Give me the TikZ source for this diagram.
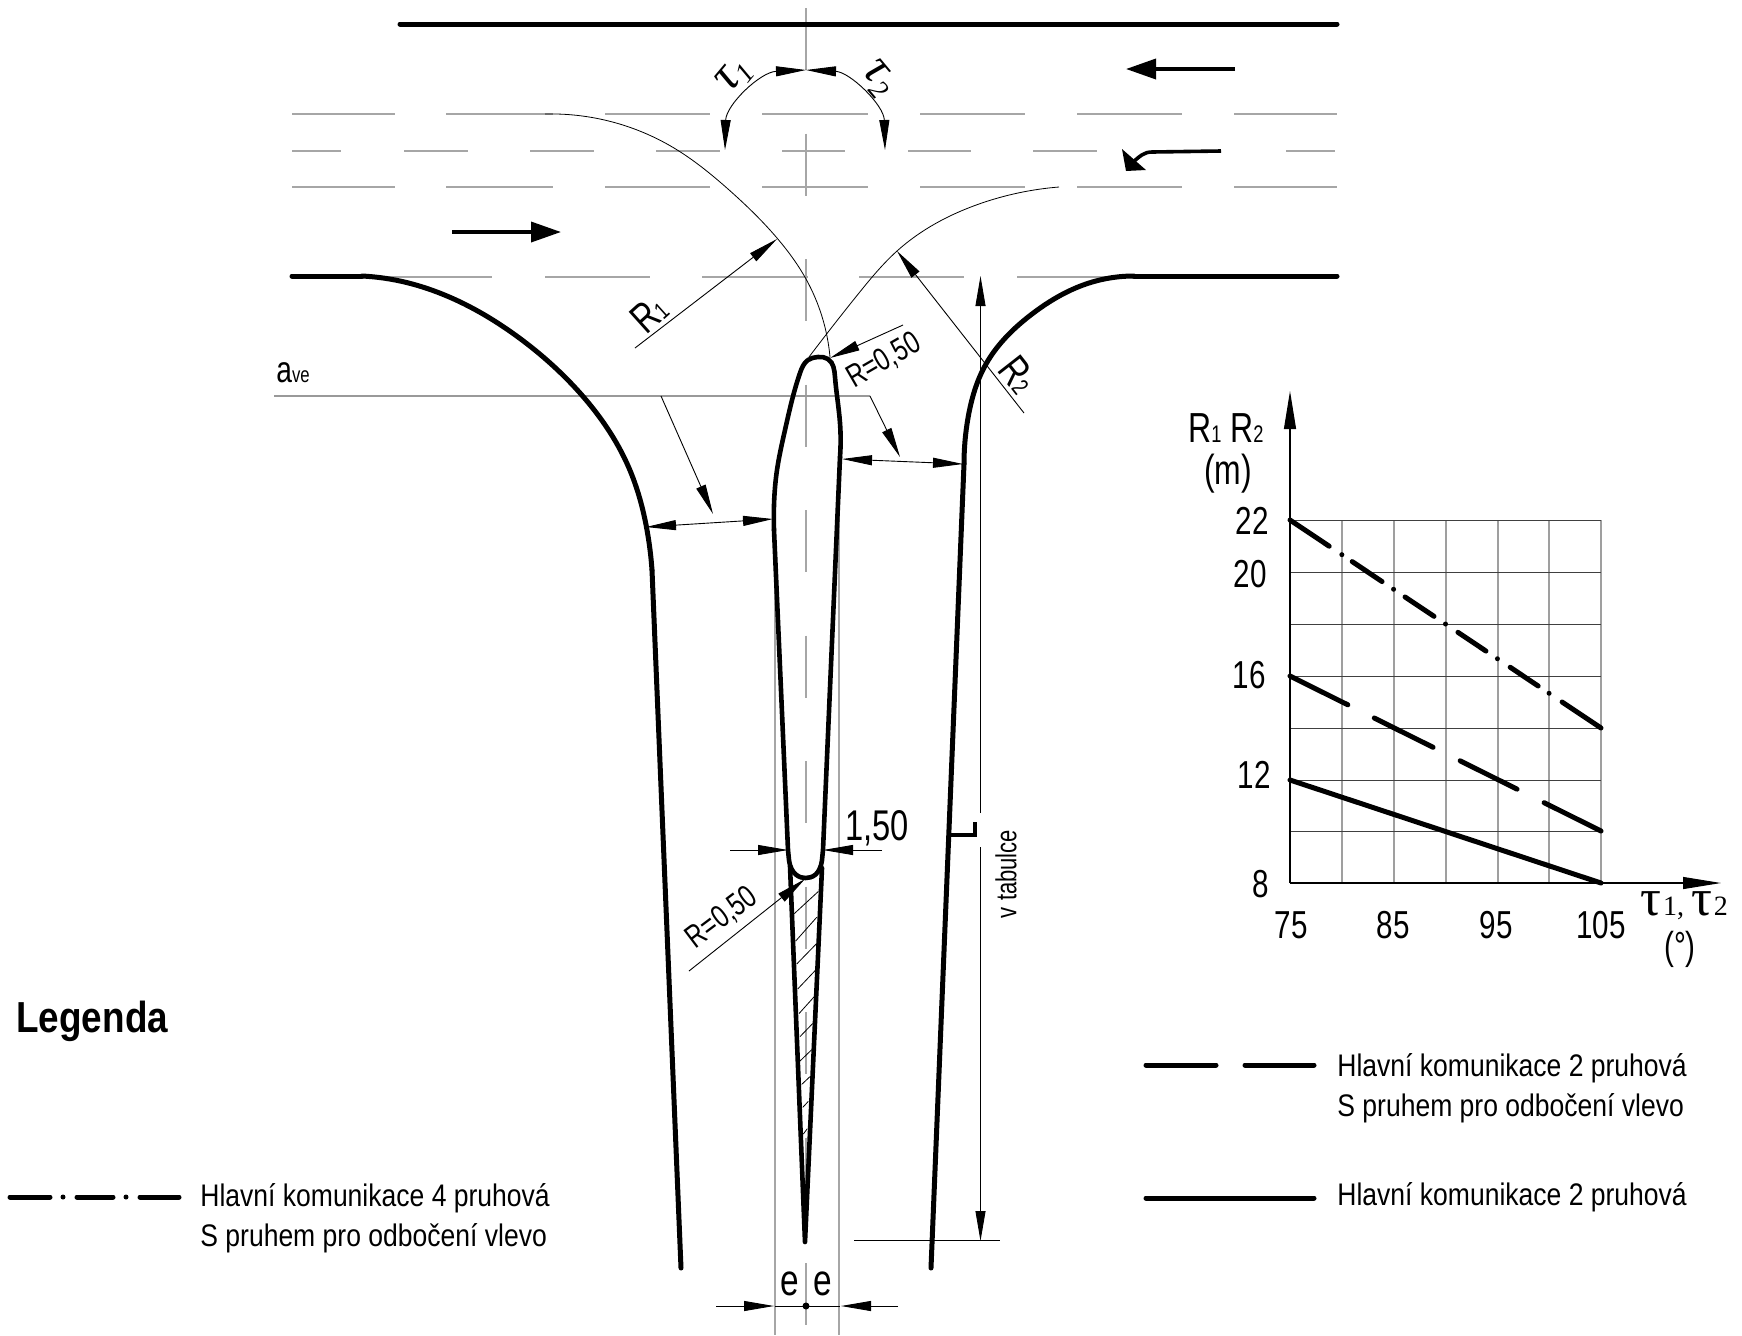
\documentclass[tikz,border=0pt]{standalone}
\usepackage{fontspec}
\setmainfont[FakeStretch=0.85]{Liberation Sans}
\newfontfamily\tallfont[FakeStretch=0.76]{Liberation Sans}
\newfontfamily\taufont{Liberation Serif}
\usetikzlibrary{arrows.meta}
\usetikzlibrary{calc}
\usetikzlibrary{hobby}
\newcommand{\smalldigit}[1]{{\fontsize{12}{12}\selectfont #1}}
\tikzset{
  road/.style={line width=2.5pt, line cap=round, line join=round},
  island/.style={line width=2.3pt, line cap=round, line join=round},
  lane/.style={line width=.7pt, gray!70},
  thinline/.style={line width=.4pt},
  dimline/.style={line width=.45pt, -{Triangle[length=15pt,width=5pt]}},
  dimboth/.style={line width=.45pt, {Triangle[length=15pt,width=5pt]}-{Triangle[length=15pt,width=5pt]}},
  drive/.style={line width=1.8pt, -{Triangle[length=15pt,width=10pt]}},
  gridline/.style={line width=.55pt, gray!75},
  hgridline/.style={line width=.45pt, gray!50!black},
  axisline/.style={line width=.55pt, -{Triangle[length=19pt,width=6pt]}},
  graphline/.style={line width=2.5pt, line cap=round},
  lbl/.style={inner sep=0pt, font=\tallfont\fontsize{19.5}{22}\selectfont},
  biglbl/.style={inner sep=0pt, font=\tallfont\fontsize{21}{24}\selectfont},
  rlbl/.style={inner sep=0pt, font=\tallfont\fontsize{16}{18}\selectfont},
  taulbl/.style={inner sep=0pt, font=\taufont\fontsize{25}{26}\selectfont\itshape},
  legendtext/.style={inner sep=0pt, align=left, anchor=west, font=\fontsize{15.6}{20}\selectfont},
}
\begin{document}
\begin{tikzpicture}[x=.5pt, y=-.5pt]
  \useasboundingbox (0,0) rectangle (1742,1335);
  % lanes and axes of the junction
  \foreach \y in {114,187}
    \foreach \a/\b in {292/395,446/553,605/710,762/868,920/1025,1077/1182,1234/1337}
      \draw[lane] (\a,\y) -- (\b,\y);
  \foreach \a/\b in {292/341,404/468,530/594,656/720,782/845,908/971,1033/1097,1286/1335}
    \draw[lane] (\a,151) -- (\b,151);
  \foreach \a/\b in {362/492,545/650,702/808,859/964,1017/1121}
    \draw[lane] (\a,277) -- (\b,277);
  \draw[lane, dash pattern=on 31pt off 31.75pt] (806,8) -- (806,1325);
  \draw[lane] (775,520) -- (775,1335);
  \draw[lane] (839,460) -- (839,1335);
  \draw[lane, gray!80] (274,396) -- (870,396);
  % carriageway edges
  \draw[road] (400,24) -- (1337,24);
  \draw[road] (292,276) -- (362,276);
  \draw[road, use Hobby shortcut] (362,276) .. (400,281) .. (437,292) .. (518,337) .. (580,393) .. (629,468) .. (647,530) .. (652,570);
  \draw[road] (652,570) -- (681,1268);
  \draw[road] (1337,276) -- (1134,276);
  \draw[road, use Hobby shortcut] (1134,276) .. (1086,284) .. (1032,314) .. (986,364) .. (968,418) .. (964,464);
  \draw[road] (964,464) -- (931,1268);
  % island
  \draw[island, use Hobby shortcut] (774,530) .. (774,505) .. (777,470) .. (785,430) .. (800,373) .. (808,360) .. (818,357) .. (828,359) .. (835,377) .. (840,423) .. (840,457);
  \draw[island] (774,530) -- (788,850) -- (789,860) .. controls (791,875) and (800,878) .. (805.5,878) .. controls (812,878) and (820,875) .. (822,860) -- (823,850) -- (840,457);
  \draw[island] (790,866) -- (805,1242) -- (822,868);
  \foreach \a/\b/\c/\d in {793.3/914.5/818.3/891.5, 795.7/941/816.7/917.3, 796.7/964/816.7/943.5,
    797.7/989/815.7/970, 799/1013.6/814.3/996.6, 800/1036.6/812.7/1023.5, 800/1061/811.7/1049.7,
    801.7/1084.4/810/1076.6, 802.7/1107.4/808.3/1101.4, 803.3/1134/807.3/1128.7}
    \draw[thinline] (\a,\b) -- (\c,\d);
  % radii
  \draw[thinline, use Hobby shortcut] (545,114) .. (674,148) .. (728,189) .. (777,238) .. (806,279) .. (830,357);
  \draw[thinline, use Hobby shortcut] (1059,187) .. (979,204) .. (897,251) .. (859,293) .. (809,357);
  \draw[dimline] (635,348) -- (777,239);
  \draw[dimline] (1024,413) -- (897,251);
  \node[biglbl, rotate=42] (rone) at (649,314) {R\smalldigit{1}};
  \node[biglbl, rotate=-52] (rtwo) at (1018,375) {R\smalldigit{2}};
  \draw[dimline] (903,325) -- (830,358);
  \node[rlbl, rotate=30] (rtop) at (884,361) {R=0,50};
  \draw[dimline] (689,971) -- (805,879);
  \node[rlbl, rotate=37] (rbottom) at (722,918) {R=0,50};
  % angles
  \draw[dimboth] (806,70) .. controls (760,72) and (726,105) .. (725,150);
  \draw[dimboth] (806,70) .. controls (850,72) and (884,105) .. (885,150);
  \node[taulbl, rotate=50] (tauone) at (735,76) {τ\raisebox{-.15em}{\fontsize{14}{14}\selectfont 1}};
  \node[taulbl, rotate=-50] (tautwo) at (878,79) {τ\raisebox{-.15em}{\fontsize{14}{14}\selectfont 2}};
  % driving directions
  \draw[drive] (452,232) -- (561,232);
  \draw[drive] (1235,69) -- (1126,69);
  \draw[line width=1.8pt] (1221,151) -- (1152,152) .. controls (1144,152) and (1140,156) .. (1132,163);
  \fill (1122,149) -- (1126,171) -- (1146,170) -- cycle;
  % widths
  \node[inner sep=0pt, anchor=base west, font=\tallfont\fontsize{18.5}{20}\selectfont] (ave) at (276,382) {a{\fontsize{11}{11}\selectfont ve}};
  \draw[dimline] (661,396) -- (713,514);
  \draw[dimline] (870,396) -- (900,457);
  \draw[dimboth] (646,527) -- (773,519);
  \draw[dimboth] (842,459) -- (963,464);
  \draw[dimline] (730,850) -- (788,850);
  \draw[dimline] (882,850) -- (823,850);
  \node[inner sep=0pt, font=\tallfont\fontsize{21.5}{24}\selectfont] (onefifty) at (877,828) {1,50};
  \draw[dimline] (716,1306) -- (774,1306);
  \draw[dimline] (898,1306) -- (841,1306);
  \draw[thinline] (775,1306) -- (840,1306);
  \fill (806,1306) circle (3.5);
  \node[lbl, font=\tallfont\fontsize{22}{24}\selectfont] (eleft) at (790,1284) {e};
  \node[lbl, font=\tallfont\fontsize{22}{24}\selectfont] (eright) at (823,1284) {e};
  % length
  \draw[dimline] (980.5,813) -- (980.5,276);
  \draw[dimline] (980.5,847) -- (980.5,1241);
  \draw[thinline] (854,1240) -- (1000,1240);
  \draw[line width=1.8pt] (947,835) -- (975,835) -- (975,822);
  \node[inner sep=0pt, rotate=90, font=\tallfont\fontsize{14.5}{16}\selectfont] (table) at (1006,874) {v tabulce};
  % graph
  \foreach \x in {1342,1394,1446,1498,1549,1601}
    \draw[gridline] (\x,520) -- (\x,883);
  \foreach \y in {520,572,624,676,728,780,831}
    \draw[hgridline] (1290,\y) -- (1601,\y);
  \draw[axisline] (1290,883) -- (1290,391);
  \draw[axisline] (1290,883) -- (1721,883);
  \coordinate (dashdotA) at (1290,520);
  \coordinate (dashdotB) at (1601,728);
  \foreach \s/\e in {0/.126,.2/.296,.37/.463,.54/.63,.708/.798,.875/1}
    \draw[graphline] ($(dashdotA)!\s!(dashdotB)$) -- ($(dashdotA)!\e!(dashdotB)$);
  \foreach \s in {.1667,.333,.5,.667,.833}
    \fill ($(dashdotA)!\s!(dashdotB)$) circle (2.5);
  \coordinate (dashA) at (1290,676);
  \coordinate (dashB) at (1601,831);
  \foreach \s/\e in {0/.186,.271/.46,.547/.73,.817/1}
    \draw[graphline] ($(dashA)!\s!(dashB)$) -- ($(dashA)!\e!(dashB)$);
  \draw[graphline] (1290,780) -- (1601,883);
  \foreach \v/\x/\y in {22/1269/521,20/1267/574,16/1266/675,12/1271/775,8/1269/884}
    \node[lbl, anchor=east] (tick\v) at (\x,\y) {\v};
  \foreach \v/\x in {75/1291,85/1393,95/1496,105/1601}
    \node[lbl] (tick\v) at (\x,925) {\v};
  \node[biglbl] (graphR) at (1226,428) {R\smalldigit{1} R\smalldigit{2}};
  \node[biglbl] (graphm) at (1228,474) {(m)};
  \node[inner sep=0pt, font=\taufont\fontsize{26}{28}\selectfont] (graphtau) at (1684,906) {τ\hspace{1pt}{\fontsize{14}{14}\selectfont 1, }τ\hspace{1pt}{\fontsize{14}{14}\selectfont 2}};
  \node[lbl] (graphdeg) at (1680,949) {(°)};
  % legend
  \node[inner sep=0pt, anchor=base west, font=\fontsize{21.7}{24}\selectfont\bfseries] (legend) at (16,1032) {Legenda};
  \foreach \a/\b in {10/50,77/113,140/179}
    \draw[graphline] (\a,1197) -- (\b,1197);
  \foreach \a in {63,126}
    \fill (\a,1197) circle (2.5);
  \node[legendtext] (textfour) at (200,1218) {Hlavní komunikace 4 pruhová\\S pruhem pro odbočení vlevo};
  \foreach \a/\b in {1146/1216,1245/1314}
    \draw[graphline] (\a,1065) -- (\b,1065);
  \node[legendtext] (texttwolane) at (1337,1088) {Hlavní komunikace 2 pruhová\\S pruhem pro odbočení vlevo};
  \draw[graphline] (1146,1198) -- (1314,1198);
  \node[legendtext] (texttwo) at (1337,1197) {Hlavní komunikace 2 pruhová};
\end{tikzpicture}
\end{document}
